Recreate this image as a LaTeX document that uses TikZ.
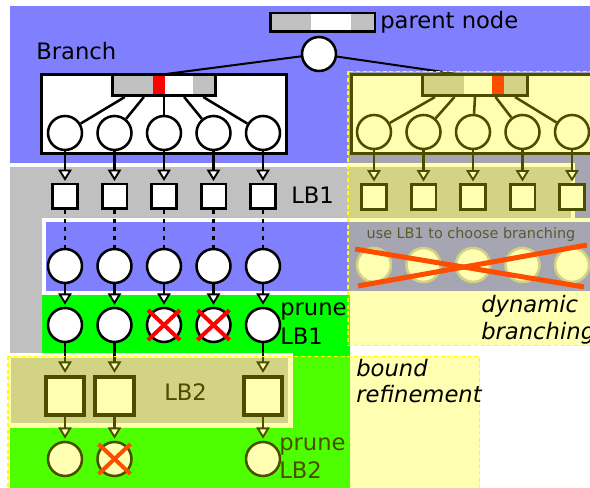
\documentclass[tikz,border=0pt]{standalone}
\usepackage{fontspec}
\setmainfont{DejaVu Sans}
\usetikzlibrary{arrows.meta,calc}

\definecolor{bgblue}{RGB}{128,128,255}
\definecolor{rowgray}{RGB}{192,192,192}
\definecolor{bggreen}{RGB}{0,255,0}
\definecolor{hlyellow}{RGB}{255,255,0}
\definecolor{dimtext}{RGB}{90,90,45}

\tikzset{
  ring/.style={circle, draw, line width=1.9pt, fill=white, minimum size=25.5pt, inner sep=0pt},
  ghost/.style={circle, draw=black!25, line width=1.9pt, fill=white, minimum size=25.5pt, inner sep=0pt},
  lbbox/.style={rectangle, draw, line width=1.9pt, fill=white, minimum size=18.4pt, inner sep=0pt},
  lbbig/.style={rectangle, draw, line width=2.8pt, fill=white, minimum size=29pt, inner sep=0pt},
  frame/.style={rectangle, draw, line width=1.9pt, inner sep=0pt},
  feed/.style={line width=1.9pt, -{Triangle[fill=white, length=8.5pt, width=10pt, line width=1.4pt]}, shorten >=1.5pt},
  tie/.style={line width=1.9pt},
  dots/.style={line width=2pt, dash pattern=on 3pt off 3.5pt},
  veto/.style={red, line width=3pt},
  txt/.style={font=\fontsize{17}{20}\selectfont, inner sep=0pt, anchor=base west},
  veil/.style={fill=hlyellow, fill opacity=0.3, draw=hlyellow, dash pattern=on 3pt off 2pt, line width=1.2pt}
}

\begin{document}
\begin{tikzpicture}[x=0.75pt,y=-0.75pt]
\useasboundingbox (0,0) rectangle (590,488);
\clip (0,0) rectangle (590,488);
\fill[white] (0,0) rectangle (590,488);

% coloured bands
\fill[bgblue] (10,6) rectangle (590,292);
\fill[bggreen] (10,295) rectangle (350,488);
\fill[rowgray] (10,165.5) -- (573,165.5) -- (573,218.5) -- (42,218.5) -- (42,356) -- (10,356) -- cycle;
\draw[white, line width=3pt] (10,165.5) -- (573,165.5) -- (573,218.5);
\filldraw[fill=bgblue, draw=white, line width=3pt] (43.5,220) rectangle (600,293.5);
\filldraw[fill=rowgray, draw=white, line width=3.75pt] (8,356) rectangle (290,426);

% row labels
\node[txt] (brl) at (36,60) {Branch};
\node[txt] (pnl) at (380,29) {parent node};
\node[txt] (lb1l) at (291,204) {LB1};
\node[txt] (pr1a) at (280,316) {prune};
\node[txt] (pr1b) at (280,345) {LB1};
\node[txt] (lb2l) at (164,401) {LB2};
\node[txt] (pr2a) at (279,451) {prune};
\node[txt] (pr2b) at (279,479) {LB2};

% parent node with its bound vector
\fill[rowgray] (270.25,13.25) rectangle (311,31.75);
\fill[white] (311,13.25) rectangle (351,31.75);
\fill[rowgray] (351,13.25) rectangle (374.75,31.75);
\node[frame, minimum width=78.4pt, minimum height=13.9pt] (pn) at (322.5,22.5) {};
\node[ring] (rt) at (319,54) {};
\coordinate (jl) at (166,74);
\coordinate (jr) at (457,74);
\draw[line width=1.5pt] (rt) -- (jl);
\draw[line width=1.5pt] (rt) -- (jr);

% static branching box
\node[frame, fill=white, minimum width=184.1pt, minimum height=59.6pt] (bxl) at (164,114) {};
\fill[rowgray] (112.25,74.25) rectangle (153,95.75);
\fill[red] (153,74.25) rectangle (165,95.75);
\fill[rowgray] (193,74.25) rectangle (215.75,95.75);
\node[frame, minimum width=77.6pt, minimum height=16.1pt] (pl) at (164,85) {};

% dynamic branching box
\node[frame, fill=white, minimum width=184.1pt, minimum height=59.6pt] (bxr) at (474,114) {};
\fill[rowgray] (422.25,74.25) rectangle (464,95.75);
\fill[red] (492,74.25) rectangle (504,95.75);
\fill[rowgray] (504,74.25) rectangle (527.75,95.75);
\node[frame, minimum width=79.1pt, minimum height=16.1pt] (pr) at (475,85) {};

% main column chain
\foreach \i/\x/\f in {1/65/0.13, 2/114.5/0.31, 3/164/0.5, 4/213.5/0.69, 5/263/0.87} {
  \node[ring] (b\i) at (\x,133) {};
  \draw[tie] ($(pl.south west)!\f!(pl.south east)$) -- (b\i);
  \node[lbbox] (s\i) at (\x,196.5) {};
  \draw[feed] (b\i.south) -- (s\i.north);
  \node[ring] (m\i) at (\x,266) {};
  \draw[dots] (s\i.south) -- (m\i.north);
  \node[ring] (g\i) at (\x,325) {};
  \draw[feed] (m\i.south) -- (g\i.north);
}
\foreach \k in {3,4} {
  \draw[veto] ($(g\k)+(-16,-15)$) -- ($(g\k)+(16,15)$);
  \draw[veto] ($(g\k)+(-16,15)$) -- ($(g\k)+(16,-15)$);
}

% dynamic branching column chain
\foreach \i/\x/\f in {1/374/0.13, 2/423.5/0.31, 3/473/0.5, 4/522.5/0.69, 5/572/0.87} {
  \node[ring] (rb\i) at (\x,132) {};
  \draw[tie] ($(pr.south west)!\f!(pr.south east)$) -- (rb\i);
  \node[lbbox] (rs\i) at (\x,197) {};
  \draw[feed] (rb\i.south) -- (rs\i.north);
  \node[ghost] (f\i) at (\x,265) {};
}
\draw[red, line width=3.75pt] (355,249) -- (584,287);
\draw[red, line width=3.75pt] (358,286) -- (587,245);

% bound refinement chain
\foreach \i/\k/\x in {1/1/65, 2/2/114.5, 3/5/263} {
  \node[lbbig] (q\i) at (\x,396) {};
  \draw[feed] (g\k.south) -- (q\i.north);
  \node[ring] (l\i) at (\x,459) {};
  \draw[feed] (q\i.south) -- (l\i.north);
}
\draw[veto] ($(l2)+(-16,-15)$) -- ($(l2)+(16,15)$);
\draw[veto] ($(l2)+(-16,15)$) -- ($(l2)+(16,-15)$);

% highlighted areas
\filldraw[veil] (348,71.5) rectangle (600,345.5);
\filldraw[veil] (8,356.5) rectangle (479.5,500);

% annotations
\node[font=\fontsize{10.8}{13}\selectfont, text=dimtext, anchor=base, inner sep=0pt] (hint) at (471,239) {use LB1 to choose branching};
\node[txt, font=\fontsize{17}{20}\selectfont\itshape] (dyn1) at (481,313) {dynamic};
\node[txt, font=\fontsize{17}{20}\selectfont\itshape] (dyn2) at (481,340) {branching};
\node[txt, font=\fontsize{17}{20}\selectfont\itshape] (bnd1) at (356,377) {bound};
\node[txt, font=\fontsize{17}{20}\selectfont\itshape] (bnd2) at (356,403) {refinement};
\end{tikzpicture}
\end{document}
